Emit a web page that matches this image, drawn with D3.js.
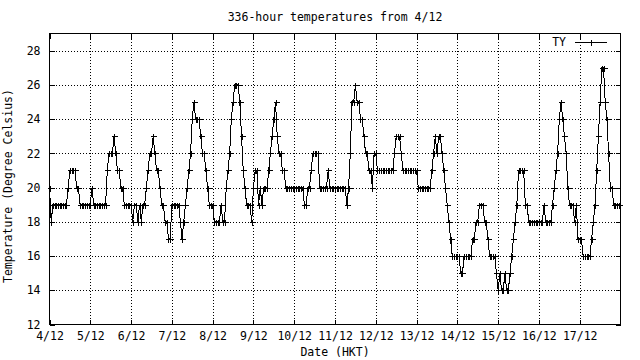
<!DOCTYPE html>
<html><head><meta charset="utf-8">
<script src="https://cdn.jsdelivr.net/npm/d3@7/dist/d3.min.js"></script>
<style>
body{margin:0;background:#fff}
svg{display:block}
text{font-family:"DejaVu Sans Mono",monospace;font-size:11.5px;fill:#000}
</style>
</head><body>
<svg id="c" width="640" height="360"></svg>
<script>
// ---- data ----
const chartTitle = "336-hour temperatures from 4/12";
const seriesName = "TY";
const xLabel = "Date (HKT)";
const yLabel = "Temperature (Degree Celsius)";
const dayLabels = ["4/12","5/12","6/12","7/12","8/12","9/12","10/12","11/12","12/12","13/12","14/12","15/12","16/12","17/12"];
const yTicks = [12,14,16,18,20,22,24,26,28];
// hourly temperatures, one array per day (24 values each)
const day04 = [20,18,19,19,19,19,19,19,19,19,19,20,21,21,21,21,20,20,19,19,19,19,19,19];
const day05 = [19,20,19,19,19,19,19,19,19,19,21,22,22,22,23,22,21,21,20,20,19,19,19,19];
const day06 = [19,18,19,19,18,19,18,19,19,20,21,22,22,23,22,21,21,20,19,19,18,18,17,17];
const day07 = [19,19,19,19,19,18,17,18,19,20,21,22,24,25,24,24,24,23,22,22,21,20,19,19];
const day08 = [19,18,18,18,18,19,18,18,20,21,22,24,25,26,26,26,25,23,21,20,19,19,19,18];
const day09 = [20,21,21,19,20,19,20,20,20,21,22,23,24,25,23,22,22,21,21,20,20,20,20,20];
const day10 = [20,20,20,20,20,20,19,19,20,20,21,22,22,22,22,20,20,20,20,20,21,20,20,20];
const day11 = [20,20,20,20,20,20,20,19,20,22,25,25,26,25,25,24,24,23,22,22,21,21,20,22];
const day12 = [22,21,21,21,21,21,21,21,21,21,21,22,23,23,23,22,21,21,21,21,21,21,21,21];
const day13 = [21,20,20,20,20,20,20,20,20,21,22,23,22,23,23,22,21,20,19,18,17,16,16,16];
const day14 = [16,16,15,15,16,16,16,16,16,17,17,18,18,19,19,19,18,18,17,16,16,16,16,15];
const day15 = [14,15,14,14,15,14,14,15,16,17,18,19,21,21,21,21,19,19,18,18,18,18,18,18];
const day16 = [18,18,18,19,18,18,18,18,19,20,21,22,24,25,24,23,22,20,19,19,19,18,19,17];
const day17 = [17,17,16,16,16,16,16,17,18,19,21,23,25,27,27,25,24,22,20,20,19,19,19,19];
const temps = [].concat(day04,day05,day06,day07,day08,day09,day10,day11,day12,day13,day14,day15,day16,day17);

// ---- layout ----
const L = 49.5, R = 620.5, T = 33.5, B = 324.5;
const svg = d3.select("#c");
const x = d3.scaleLinear().domain([0, 336]).range([L, R]);
const y = d3.scaleLinear().domain([12, 29]).range([B, T]);
const dayHours = dayLabels.map((d, i) => i * 24);

// grid
const grid = svg.append("g").attr("shape-rendering","crispEdges");
grid.append("g").attr("transform",`translate(${L},0)`)
  .call(d3.axisLeft(y).tickValues(yTicks.filter(v=>v>12)).tickSize(-(R-L)).tickFormat(""))
  .call(g=>g.select(".domain").remove())
  .selectAll("line").attr("stroke","#000").attr("stroke-dasharray","1,2");
grid.append("g").attr("transform",`translate(0,${B})`)
  .call(d3.axisBottom(x).tickValues(dayHours.filter(v=>v>0)).tickSize(-(B-T)).tickFormat(""))
  .call(g=>g.select(".domain").remove())
  .selectAll("line").attr("stroke","#000").attr("stroke-dasharray","1,2");

// axes with inward ticks
const axL = svg.append("g").attr("transform",`translate(${L},0)`)
  .call(d3.axisLeft(y).tickValues(yTicks).tickSize(-5).tickPadding(9).tickFormat(d3.format("d")));
const axR = svg.append("g").attr("transform",`translate(${R},0)`)
  .call(d3.axisRight(y).tickValues(yTicks).tickSize(-5).tickFormat(""));
const axB = svg.append("g").attr("transform",`translate(0,${B})`)
  .call(d3.axisBottom(x).tickValues(dayHours).tickSize(-5).tickPadding(7).tickFormat((d,i)=>dayLabels[i]));
const axT = svg.append("g").attr("transform",`translate(0,${T})`)
  .call(d3.axisTop(x).tickValues(dayHours).tickSize(-5).tickFormat(""));
[axL,axR,axB,axT].forEach(a=>{
  a.select(".domain").remove();
  a.attr("font-family",null).attr("font-size",null).attr("shape-rendering","crispEdges");
  a.selectAll("line").attr("stroke","#000");
  a.selectAll("text").attr("fill","#000");
});

// border
svg.append("rect").attr("x",L).attr("y",T).attr("width",R-L).attr("height",B-T)
  .attr("fill","none").attr("stroke","#000").attr("shape-rendering","crispEdges");

// series line + points
const line = d3.line().x((d,i)=>x(i)).y(d=>y(d));
svg.append("path").datum(temps).attr("d",line).attr("fill","none")
  .attr("stroke","#000").attr("stroke-width",1).attr("shape-rendering","crispEdges");
const plus = "M-3,0H3M0,-3V3";
svg.append("g").attr("shape-rendering","crispEdges").selectAll("path").data(temps).join("path")
  .attr("d",plus).attr("transform",(d,i)=>`translate(${Math.round(x(i))+0.5},${Math.round(y(d))+0.5})`)
  .attr("stroke","#000").attr("fill","none");

// legend
svg.append("text").attr("x",566).attr("y",46).attr("text-anchor","end").text(seriesName);
svg.append("path").attr("d",`M575,42.5H607`).attr("stroke","#000").attr("shape-rendering","crispEdges");
svg.append("path").attr("d",plus).attr("transform","translate(591.5,42.5)").attr("stroke","#000").attr("shape-rendering","crispEdges");

// titles
svg.append("text").attr("x",(L+R)/2).attr("y",21).attr("text-anchor","middle").text(chartTitle);
svg.append("text").attr("x",(L+R)/2).attr("y",356).attr("text-anchor","middle").text(xLabel);
svg.append("text").attr("transform","translate(12,186) rotate(-90)").attr("text-anchor","middle").text(yLabel);
</script>
</body></html>
